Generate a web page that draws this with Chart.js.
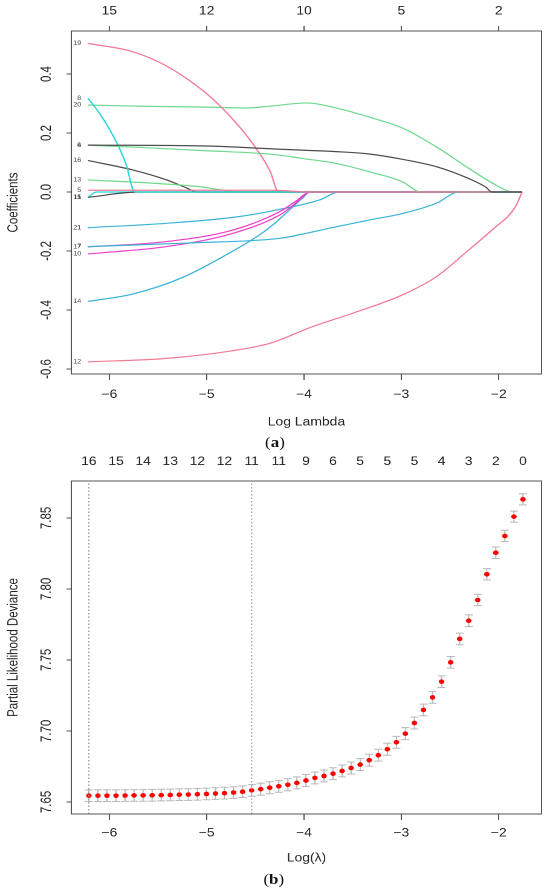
<!DOCTYPE html>
<html>
<head>
<meta charset="utf-8">
<script src="https://cdn.jsdelivr.net/npm/chart.js@4.4.0/dist/chart.umd.min.js"></script>
<style>
  html, body { margin: 0; padding: 0; background: #fff; }
  body { width: 550px; height: 890px; overflow: hidden; position: relative; }
  /* the reference figure is stretched horizontally, so the whole stage is too */
  #stage { position: absolute; left: 0; top: 0; width: 455px; height: 890px; transform: scaleX(1.2088); transform-origin: 0 0; }
  canvas { position: absolute; left: 0; }
  #chartA { top: 0; width: 455px; height: 432px; }
  #chartB { top: 450px; width: 455px; height: 420px; }
  .tag { position: absolute; transform: translate(-50%, -50%); font-family: "Liberation Serif", "DejaVu Serif", serif; font-size: 14px; color: #111; white-space: nowrap; }
</style>
</head>
<body>
<div id="stage">
  <canvas id="chartA" width="455" height="432"></canvas>
  <div class="tag" style="left:227.5px; top:443px;">(<b>a</b>)</div>
  <canvas id="chartB" width="455" height="420"></canvas>
  <div class="tag" style="left:226.5px; top:880px;">(<b>b</b>)</div>
</div>
<script>
// ---- panel (a): coefficient paths, [log lambda, coefficient] ----
var v4  = [[-6.22,0.159],[-5.0,0.156],[-4.3,0.146],[-4.02,0.142],[-3.67,0.137],[-3.33,0.129],[-2.99,0.111],[-2.64,0.086],[-2.31,0.046],[-2.13,0.016],[-2.07,0],[-1.76,0]];
var v5  = [[-6.22,0.006],[-4.3,0.006],[-3.95,0],[-1.76,0]];
var v6  = [[-6.22,0.159],[-5.6,0.150],[-5.0,0.140],[-4.3,0.127],[-4.02,0.114],[-3.67,0.097],[-3.33,0.069],[-2.99,0.035],[-2.80,0],[-1.76,0]];
var v7  = [[-6.22,-0.185],[-5.2,-0.173],[-4.25,-0.157],[-4.02,-0.143],[-3.67,-0.118],[-3.33,-0.095],[-2.99,-0.073],[-2.64,-0.038],[-2.41,0],[-1.76,0]];
var v8  = [[-6.22,0.318],[-6.10,0.267],[-5.92,0.165],[-5.82,0.086],[-5.76,0.010],[-5.72,0],[-1.76,0]];
var v10 = [[-6.22,-0.210],[-5.41,-0.185],[-4.73,-0.140],[-4.25,-0.078],[-4.10,-0.042],[-3.93,0],[-1.76,0]];
var v11 = [[-6.22,-0.018],[-5.70,0],[-1.76,0]];
var v12 = [[-6.22,-0.576],[-5.41,-0.564],[-4.73,-0.538],[-4.35,-0.513],[-3.91,-0.456],[-3.50,-0.411],[-2.99,-0.349],[-2.64,-0.287],[-2.31,-0.197],[-2.07,-0.129],[-1.83,-0.051],[-1.76,0]];
var v13 = [[-6.22,0.041],[-5.6,0.031],[-5.07,0.018],[-4.66,0],[-1.76,0]];
var v14 = [[-6.22,-0.371],[-5.76,-0.346],[-5.25,-0.290],[-4.73,-0.200],[-4.46,-0.146],[-4.30,-0.106],[-4.12,-0.052],[-4.02,-0.022],[-3.94,0],[-1.76,0]];
var v15 = [[-6.22,-0.018],[-6.13,0],[-1.76,0]];
var v16 = [[-6.22,0.107],[-5.76,0.075],[-5.41,0.041],[-5.20,0.013],[-5.10,0],[-1.76,0]];
var v17 = [[-6.22,-0.186],[-5.41,-0.168],[-4.73,-0.129],[-4.25,-0.067],[-4.10,-0.035],[-3.93,0],[-1.76,0]];
var v19 = [[-6.22,0.504],[-5.76,0.476],[-5.41,0.427],[-5.07,0.352],[-4.85,0.288],[-4.66,0.220],[-4.49,0.147],[-4.35,0.072],[-4.26,0],[-1.76,0]];
var v20 = [[-6.22,0.295],[-5.5,0.290],[-5.0,0.288],[-4.6,0.285],[-4.35,0.291],[-3.97,0.302],[-3.67,0.285],[-3.33,0.254],[-2.99,0.217],[-2.64,0.153],[-2.31,0.081],[-2.03,0.024],[-1.85,0],[-1.76,0]];
var v21 = [[-6.22,-0.121],[-5.41,-0.106],[-4.73,-0.086],[-4.28,-0.061],[-3.84,-0.027],[-3.64,0],[-1.76,0]];

var varIds = ['4','5','6','7','8','10','11','12','13','14','15','16','17','19','20','21'];
var coefPaths = [v4, v5, v6, v7, v8, v10, v11, v12, v13, v14, v15, v16, v17, v19, v20, v21];

var lambdaTicks = [-6, -5, -4, -3, -2];
var coefTicks = [-0.6, -0.4, -0.2, 0, 0.2, 0.4];
var dfTicksA = ['15', '12', '10', '5', '2'];

// ---- panel (b): cross-validated partial likelihood deviance ----
var logLambda = [-6.210,-6.117,-6.024,-5.931,-5.838,-5.746,-5.653,-5.560,-5.467,-5.374,
  -5.281,-5.188,-5.095,-5.002,-4.909,-4.817,-4.724,-4.631,-4.538,-4.445,
  -4.352,-4.259,-4.166,-4.073,-3.980,-3.888,-3.795,-3.702,-3.609,-3.516,
  -3.423,-3.330,-3.237,-3.144,-3.051,-2.959,-2.866,-2.773,-2.680,-2.587,
  -2.494,-2.401,-2.308,-2.215,-2.122,-2.030,-1.937,-1.844,-1.751];
var cvm = [7.6544,7.6544,7.6544,7.6544,7.6545,7.6546,7.6546,7.6547,7.6548,7.6549,
  7.6551,7.6552,7.6554,7.6556,7.6559,7.6562,7.6566,7.6572,7.6581,7.6590,
  7.6600,7.6610,7.6621,7.6634,7.6651,7.6669,7.6683,7.6699,7.6718,7.6739,
  7.6763,7.6794,7.6829,7.6871,7.6920,7.6981,7.7056,7.7148,7.7236,7.7347,
  7.7483,7.7648,7.7776,7.7922,7.8103,7.8255,7.8373,7.8509,7.8631];
var cvsd = [0.0041,0.0041,0.0041,0.0041,0.0041,0.0041,0.0041,0.0041,0.0041,0.0041,
  0.0041,0.0041,0.0041,0.0041,0.0041,0.0041,0.0041,0.0041,0.0041,0.0042,
  0.0042,0.0042,0.0042,0.0042,0.0042,0.0042,0.0042,0.0042,0.0042,0.0042,
  0.0042,0.0042,0.0042,0.0042,0.0042,0.0042,0.0042,0.0041,0.0041,0.0041,
  0.0041,0.0041,0.0041,0.0040,0.0040,0.0040,0.0040,0.0039,0.0039];
var nzLabels = ['16','15','14','13','12','12','11','11','9','6','5','5','5','4','3','2','0'];
var devianceTicks = [7.65, 7.70, 7.75, 7.80, 7.85];
var logLambdaMin = -6.210;
var logLambda1se = -4.538;

// ---- styling ----
var FONT = '"Liberation Sans", Arial, sans-serif';
var tickFont = { family: FONT, size: 11.5 };
var titleFont = { family: FONT, size: 11.5 };
var axisCol = '#555555';
var textCol = '#222222';
var pink = '#F27A98', green = '#6ED88E', gray = '#4D4D4D', cyan = '#25D6D9', blue = '#39B3D7', magenta = '#EE3FC9';
var pathColors = [gray, pink, green, blue, cyan, magenta, gray, pink, green, blue, cyan, gray, magenta, pink, green, blue];

function minusLabel(v) {
  return v < 0 ? '\u2212' + Math.abs(v) : String(v);
}

var frame = {
  id: 'frame',
  afterDatasetsDraw: function (chart) {
    var ctx = chart.ctx, a = chart.chartArea;
    ctx.save();
    ctx.strokeStyle = axisCol;
    ctx.lineWidth = 1;
    ctx.strokeRect(a.left, a.top, a.right - a.left, a.bottom - a.top);
    ctx.restore();
  }
};

var pathLabels = {
  id: 'pathLabels',
  afterDatasetsDraw: function (chart) {
    var ctx = chart.ctx, x = chart.scales.x, y = chart.scales.y;
    ctx.save();
    ctx.font = '6px ' + FONT;
    ctx.fillStyle = '#444';
    ctx.textAlign = 'right';
    ctx.textBaseline = 'middle';
    coefPaths.forEach(function (p, i) {
      ctx.fillText(varIds[i], x.getPixelForValue(p[0][0]) - 5.5, y.getPixelForValue(p[0][1]));
    });
    ctx.restore();
  }
};

var errorBars = {
  id: 'errorBars',
  beforeDatasetsDraw: function (chart) {
    var ctx = chart.ctx, x = chart.scales.x, y = chart.scales.y;
    ctx.save();
    ctx.strokeStyle = '#B8B8B8';
    ctx.lineWidth = 1;
    logLambda.forEach(function (l, i) {
      var px = x.getPixelForValue(l);
      var hi = y.getPixelForValue(cvm[i] + cvsd[i]);
      var lo = y.getPixelForValue(cvm[i] - cvsd[i]);
      ctx.beginPath();
      ctx.moveTo(px, hi); ctx.lineTo(px, lo);
      ctx.moveTo(px - 3.3, hi); ctx.lineTo(px + 3.3, hi);
      ctx.moveTo(px - 3.3, lo); ctx.lineTo(px + 3.3, lo);
      ctx.stroke();
    });
    ctx.restore();
  }
};

function bottomAxis(min, max, pad, title, titlePad, height) {
  return {
    type: 'linear', position: 'bottom', min: min, max: max,
    afterBuildTicks: function (s) { s.ticks = lambdaTicks.map(function (v) { return { value: v }; }); },
    afterFit: function (s) { s.height = height; },
    ticks: { font: tickFont, color: textCol, padding: pad, maxRotation: 0, autoSkip: false, callback: minusLabel },
    grid: { drawOnChartArea: false, drawTicks: true, tickLength: 6, color: axisCol },
    border: { display: false },
    title: { display: true, text: title, font: titleFont, color: textCol, padding: { top: 0, bottom: titlePad } }
  };
}

// ---- chart (a) ----
new Chart(document.getElementById('chartA'), {
  type: 'scatter',
  data: {
    datasets: coefPaths.map(function (p, i) {
      return {
        label: varIds[i],
        data: p.map(function (d) { return { x: d[0], y: d[1] }; }),
        showLine: true,
        borderColor: pathColors[i],
        borderWidth: 1.2,
        pointRadius: 0,
        cubicInterpolationMode: 'monotone',
        fill: false
      };
    })
  },
  options: {
    responsive: false,
    animation: false,
    devicePixelRatio: 2,
    layout: { padding: { left: 0, right: 7, top: 0, bottom: 0 } },
    plugins: { legend: { display: false }, tooltip: { enabled: false } },
    scales: {
      x: bottomAxis(-6.39, -1.56, 8, 'Log Lambda', 3, 58),
      x2: {
        type: 'linear', position: 'top', min: -6.39, max: -1.56,
        afterBuildTicks: function (s) { s.ticks = lambdaTicks.map(function (v) { return { value: v }; }); },
        afterFit: function (s) { s.height = 31; },
        ticks: { font: tickFont, color: textCol, padding: 8, maxRotation: 0, autoSkip: false,
          callback: function (v, i) { return dfTicksA[i]; } },
        grid: { drawOnChartArea: false, drawTicks: true, tickLength: 5, color: axisCol },
        border: { display: false }
      },
      y: {
        min: -0.617, max: 0.546,
        afterBuildTicks: function (s) { s.ticks = coefTicks.map(function (v) { return { value: v }; }); },
        afterFit: function (s) { s.width = 59; },
        ticks: { font: tickFont, color: textCol, padding: 6.5, minRotation: 90, maxRotation: 90, crossAlign: 'center',
          callback: function (v) { return v.toFixed(1); } },
        grid: { drawOnChartArea: false, drawTicks: true, tickLength: 4, color: axisCol },
        border: { display: false },
        title: { display: true, text: 'Coefficients', font: titleFont, color: textCol, padding: { top: 4.5, bottom: 0 } }
      }
    }
  },
  plugins: [frame, pathLabels]
});

// ---- chart (b) ----
var yMinB = 7.6415, yMaxB = 7.876;
new Chart(document.getElementById('chartB'), {
  type: 'scatter',
  data: {
    datasets: [
      {
        label: 'lambda.min',
        data: [{ x: logLambdaMin, y: yMinB }, { x: logLambdaMin, y: yMaxB }],
        showLine: true, borderColor: '#9A9A9A', borderWidth: 1, borderDash: [1.5, 2], pointRadius: 0
      },
      {
        label: 'lambda.1se',
        data: [{ x: logLambda1se, y: yMinB }, { x: logLambda1se, y: yMaxB }],
        showLine: true, borderColor: '#9A9A9A', borderWidth: 1, borderDash: [1.5, 2], pointRadius: 0
      },
      {
        label: 'deviance',
        data: logLambda.map(function (l, i) { return { x: l, y: cvm[i] }; }),
        showLine: false, pointRadius: 2.3, pointBackgroundColor: '#FF0000', pointBorderWidth: 0
      }
    ]
  },
  options: {
    responsive: false,
    animation: false,
    devicePixelRatio: 2,
    layout: { padding: { left: 0, right: 7, top: 0, bottom: 0 } },
    plugins: { legend: { display: false }, tooltip: { enabled: false } },
    scales: {
      x: bottomAxis(-6.39, -1.56, 6.4, 'Log(\u03bb)', 5, 56),
      x2: {
        type: 'linear', position: 'top', min: -6.39, max: -1.56,
        afterBuildTicks: function (s) {
          s.ticks = logLambda.filter(function (l, i) { return i % 3 === 0; }).map(function (v) { return { value: v }; });
        },
        afterFit: function (s) { s.height = 31; },
        ticks: { font: tickFont, color: textCol, padding: 12.4, maxRotation: 0, autoSkip: false,
          callback: function (v, i) { return nzLabels[i]; } },
        grid: { display: false, drawTicks: false },
        border: { display: false }
      },
      y: {
        min: yMinB, max: yMaxB,
        afterBuildTicks: function (s) { s.ticks = devianceTicks.map(function (v) { return { value: v }; }); },
        afterFit: function (s) { s.width = 59; },
        ticks: { font: tickFont, color: textCol, padding: 4.9, minRotation: 90, maxRotation: 90, crossAlign: 'center',
          callback: function (v) { return v.toFixed(2); } },
        grid: { drawOnChartArea: false, drawTicks: true, tickLength: 4, color: axisCol },
        border: { display: false },
        title: { display: true, text: 'Partial Likelihood Deviance', font: titleFont, color: textCol, padding: { top: 4.5, bottom: 0 } }
      }
    }
  },
  plugins: [frame, errorBars]
});
</script>
</body>
</html>
